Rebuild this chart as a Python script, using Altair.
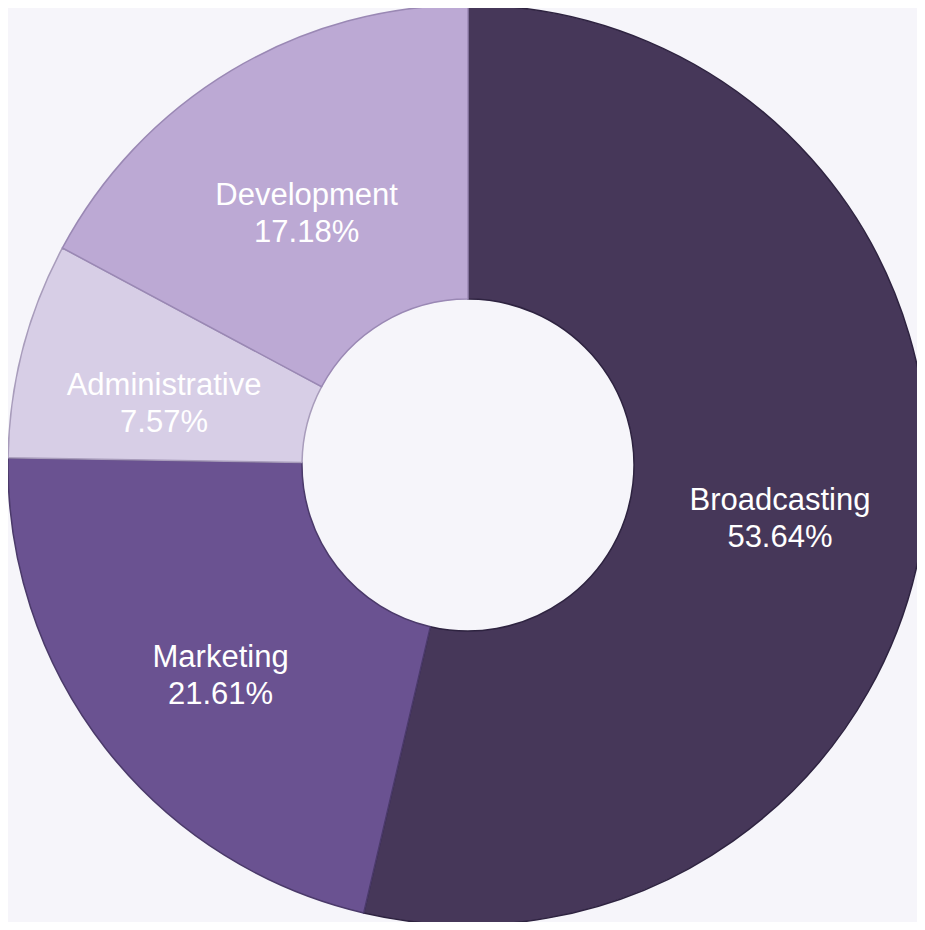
import altair as alt
import pandas as pd

categories = ["Broadcasting", "Marketing", "Administrative", "Development"]
shares = [53.64, 21.61, 7.57, 17.18]
colors = ["#463759", "#6a5291", "#d7cee6", "#bca9d4"]
strokes = ["#2e2340", "#4b3a6a", "#a89cbb", "#9a88b4"]

df = pd.DataFrame({
    "category": categories,
    "share": shares,
    "order": list(range(len(categories))),
})
df["label"] = [f"{c}\n{v:.2f}%" for c, v in zip(categories, shares)]

base = alt.Chart(df).encode(
    theta=alt.Theta("share:Q", stack=True),
    order=alt.Order("order:Q"),
)

arcs = base.mark_arc(
    outerRadius=460, innerRadius=166, strokeWidth=1.5, x=460, y=457
).encode(
    color=alt.Color("category:N", scale=alt.Scale(domain=categories, range=colors), legend=None),
    stroke=alt.Stroke("category:N", scale=alt.Scale(domain=categories, range=strokes), legend=None),
)

labels = base.mark_text(
    radius=314, x=460, y=457, fontSize=31, font="Liberation Sans", color="#ffffff",
    lineBreak="\n", lineHeight=37, align="center", baseline="middle",
).encode(text="label:N")

chart = (arcs + labels).properties(
    width=909, height=914, padding=0, background="#f6f5fa",
    autosize=alt.AutoSizeParams(type="none"),
).configure_view(stroke=None)

chart.save("out.html", embed_options={"renderer": "svg", "actions": False})
